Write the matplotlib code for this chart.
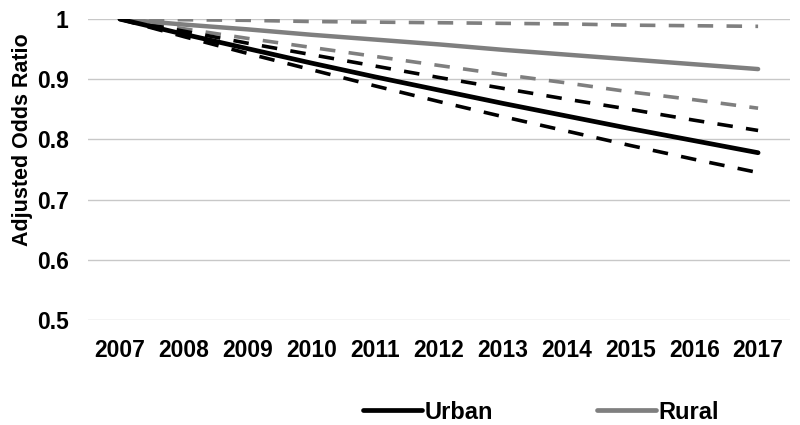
import matplotlib
matplotlib.use("Agg")
import matplotlib.pyplot as plt

years = ["2007", "2008", "2009", "2010", "2011", "2012", "2013", "2014", "2015", "2016", "2017"]
urban = [1.000, 0.975, 0.951, 0.927, 0.904, 0.882, 0.860, 0.839, 0.818, 0.798, 0.778]
urban_upper = [1.000, 0.980, 0.960, 0.941, 0.922, 0.903, 0.885, 0.867, 0.850, 0.832, 0.815]
urban_lower = [1.000, 0.971, 0.943, 0.916, 0.889, 0.863, 0.838, 0.814, 0.790, 0.767, 0.745]
rural = [1.000, 0.991, 0.983, 0.974, 0.966, 0.958, 0.949, 0.941, 0.933, 0.925, 0.917]
rural_upper = [1.000, 0.999, 0.998, 0.996, 0.995, 0.994, 0.993, 0.992, 0.990, 0.989, 0.988]
rural_lower = [1.000, 0.984, 0.968, 0.953, 0.938, 0.923, 0.908, 0.894, 0.879, 0.866, 0.852]
yticks = [0.5, 0.6, 0.7, 0.8, 0.9, 1.0]
ytick_labels = ["0.5", "0.6", "0.7", "0.8", "0.9", "1"]

plt.rcParams['font.family'] = ['Liberation Sans', 'DejaVu Sans']
plt.rcParams['font.weight'] = 'bold'

fig = plt.figure(figsize=(8, 4.25), dpi=100)
ax = fig.add_axes([0.11, 0.247, 0.8775, 0.708])

x = list(range(len(years)))
black = '#000000'
gray = '#7f7f7f'
dash = (4.3, 3.7)

ax.plot(x, rural_upper, color=gray, lw=2.6, dashes=dash, zorder=3)
ax.plot(x, rural_lower, color=gray, lw=2.6, dashes=dash, zorder=3)
ax.plot(x, urban_upper, color=black, lw=2.6, dashes=dash, zorder=3)
ax.plot(x, urban_lower, color=black, lw=2.6, dashes=dash, zorder=3)
l2, = ax.plot(x, rural, color=gray, lw=3.2, solid_capstyle='round', zorder=4, label='Rural')
l1, = ax.plot(x, urban, color=black, lw=3.4, solid_capstyle='round', zorder=5, label='Urban')

ax.set_xlim(-0.5, len(years) - 0.5)
ax.set_ylim(0.5, 1.0)
ax.set_xticks(x)
ax.set_xticklabels(years, fontsize=16.5, fontweight='bold')
ax.set_yticks(yticks)
ax.set_yticklabels(ytick_labels, fontsize=16.5, fontweight='bold')
ax.tick_params(axis='x', length=0, pad=14)
ax.tick_params(axis='y', length=0, pad=14)
ax.yaxis.grid(True, color='#c8c8c8', lw=1.0)
ax.set_axisbelow(True)
for s in ax.spines.values():
    s.set_visible(False)
ax.set_ylabel('Adjusted Odds Ratio', fontsize=15.5, fontweight='bold')
ax.yaxis.set_label_coords(-0.078, 0.6)

leg = fig.legend(handles=[l1, l2], labels=['Urban', 'Rural'], loc='center', bbox_to_anchor=(0.676, 0.03),
                 ncol=2, frameon=False, prop={'size': 17, 'weight': 'bold'}, handlelength=2.5,
                 handletextpad=0.1, columnspacing=4.4)
for ln in leg.get_lines():
    ln.set_linewidth(3.4)

fig.savefig('out.png', dpi=100)
